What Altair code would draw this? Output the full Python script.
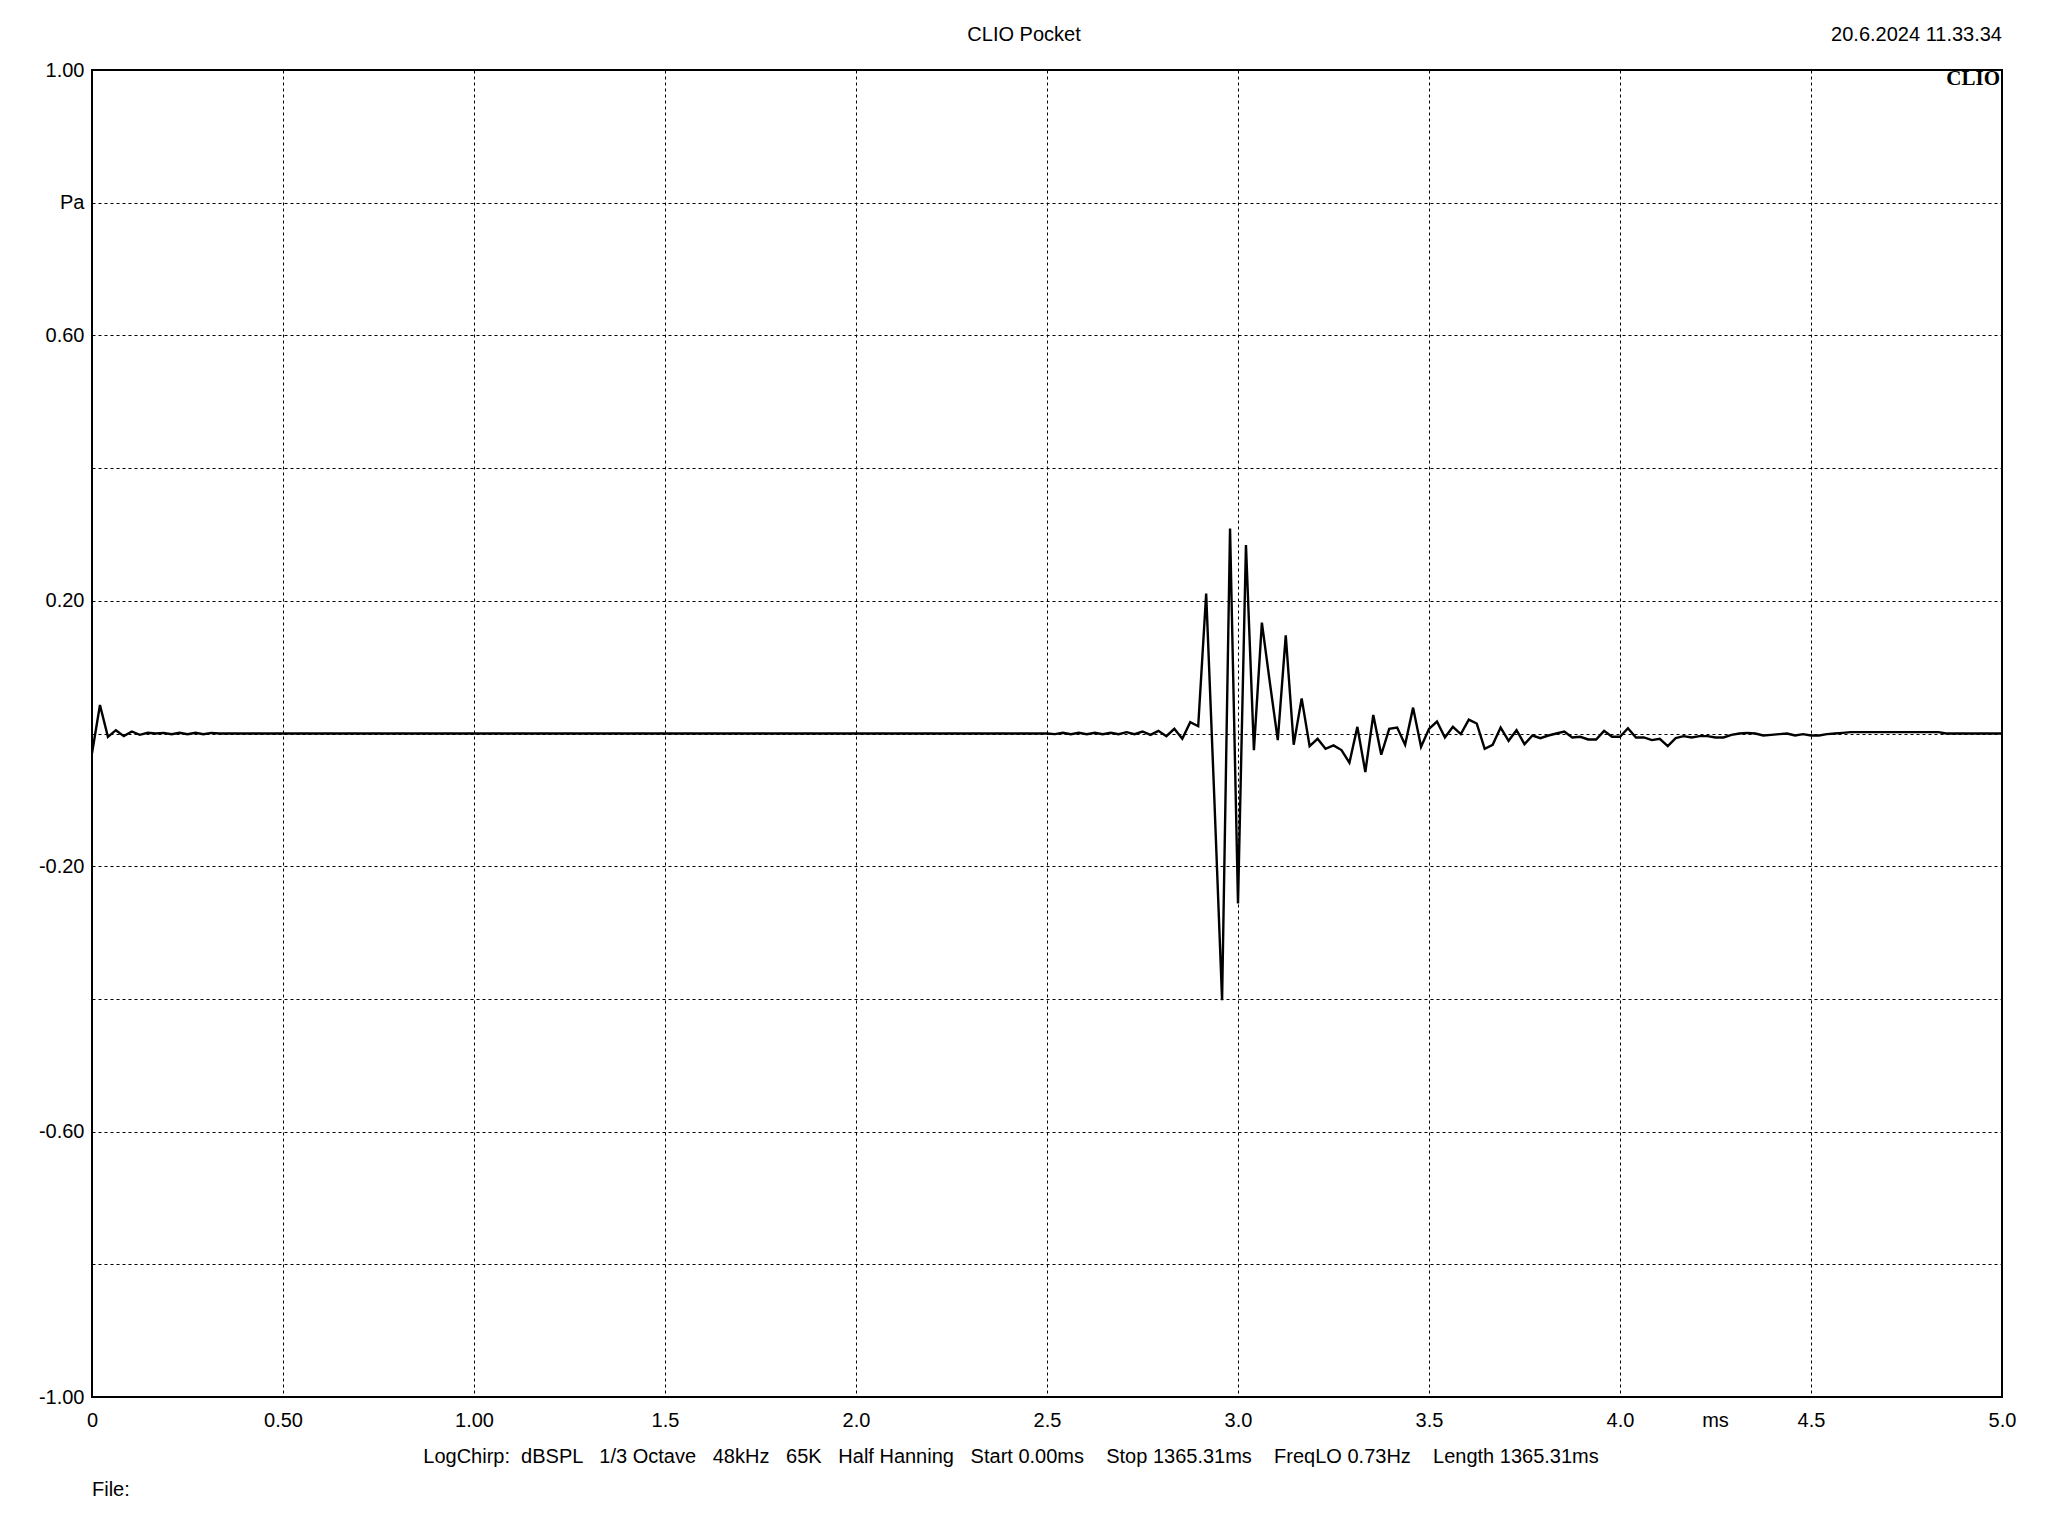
import altair as alt
import pandas as pd

FONT = "Liberation Sans"
SAMPLE_RATE_KHZ = 48.0

# Impulse response samples (Pa), one per 1/48 ms
pressure = [
    -0.030, 0.043, -0.005, 0.005, -0.004, 0.003, -0.002, 0.001, 0.000, 0.001,
    -0.001, 0.001, -0.001, 0.001, -0.001, 0.001, 0.000,
    0.0, 0.0, 0.0, 0.0, 0.0, 0.0, 0.0, 0.0, 0.0, 0.0, 0.0, 0.0, 0.0,
    0.0, 0.0, 0.0, 0.0, 0.0, 0.0, 0.0, 0.0, 0.0, 0.0, 0.0, 0.0, 0.0,
    0.0, 0.0, 0.0, 0.0, 0.0, 0.0, 0.0, 0.0, 0.0, 0.0, 0.0, 0.0, 0.0,
    0.0, 0.0, 0.0, 0.0, 0.0, 0.0, 0.0, 0.0, 0.0, 0.0, 0.0, 0.0, 0.0,
    0.0, 0.0, 0.0, 0.0, 0.0, 0.0, 0.0, 0.0, 0.0, 0.0, 0.0, 0.0, 0.0,
    0.0, 0.0, 0.0, 0.0, 0.0, 0.0, 0.0, 0.0, 0.0, 0.0, 0.0, 0.0, 0.0,
    0.0, 0.0, 0.0, 0.0, 0.0, 0.0, 0.0, 0.0, 0.0, 0.0, 0.0, 0.0, 0.0,
    0.0, 0.0, 0.0, 0.0, 0.0, 0.0, 0.0, 0.0, 0.0, 0.0, 0.0, 0.0, 0.0,
    -0.001, 0.001, -0.001, 0.001, -0.001, 0.001, -0.001, 0.001, -0.001, 0.002,
    -0.001, 0.003, -0.002, 0.004, -0.004, 0.007, -0.008, 0.017, 0.011,
    0.211, -0.090, -0.402, 0.309, -0.256, 0.284, -0.025, 0.167, 0.077, -0.010,
    0.148, -0.017, 0.053, -0.019, -0.008, -0.023, -0.018, -0.025, -0.044, 0.010,
    -0.058, 0.028, -0.032, 0.007, 0.009,
    -0.017, 0.039, -0.020, 0.007, 0.018, -0.006, 0.010, -0.001, 0.021, 0.015,
    -0.023, -0.017, 0.009, -0.011, 0.005, -0.016, -0.003, -0.007, -0.003, 0.000,
    0.003, -0.006, -0.005, -0.009, -0.009, 0.004, -0.005, -0.005, 0.008, -0.006,
    -0.006, -0.010,
    -0.008, -0.019, -0.007, -0.004, -0.006, -0.004, -0.004, -0.006, -0.006, -0.002,
    0.000, 0.001, 0.000, -0.003, -0.002, -0.001, 0.000, -0.003, -0.001, -0.003,
    -0.003, -0.001, 0.000, 0.001,
    0.002, 0.002, 0.002, 0.002, 0.002, 0.002, 0.002, 0.002, 0.002, 0.002, 0.002, 0.002,
    0.000, 0.000, 0.000, 0.000, 0.000, 0.000, 0.000, 0.000,
]
time_ms = [i / SAMPLE_RATE_KHZ for i in range(len(pressure))]

xtick_values = [0.0, 0.5, 1.0, 1.5, 2.0, 2.5, 3.0, 3.5, 4.0, 4.5, 5.0]
xtick_labels = ["0", "0.50", "1.00", "1.5", "2.0", "2.5", "3.0", "3.5", "4.0", "4.5", "5.0"]
ytick_values = [-1.0, -0.8, -0.6, -0.4, -0.2, 0.0, 0.2, 0.4, 0.6, 0.8, 1.0]
ytick_labels = ["-1.00", "", "-0.60", "", "-0.20", "", "0.20", "", "0.60", "Pa", "1.00"]

title_text = "CLIO Pocket"
date_text = "20.6.2024 11.33.34"
logo_text = "CLIO"
x_unit_text = "ms"
x_unit_pos = 4.25
NB = "\u00a0"
info_parts = ["LogChirp:", "dBSPL", "1/3 Octave", "48kHz", "65K", "Half Hanning",
              "Start 0.00ms", "Stop 1365.31ms", "FreqLO 0.73Hz", "Length 1365.31ms"]
info_gaps = [2, 3, 3, 3, 3, 3, 4, 4, 4]
file_text = "File:"

W, H = 1910, 1327


def label_expr(values, labels):
    expr = "''"
    for v, l in zip(values, labels):
        expr = f"abs(datum.value - ({v})) < 1e-6 ? '{l}' : ({expr})"
    return expr


info_text = info_parts[0]
for gap, part in zip(info_gaps, info_parts[1:]):
    info_text += " " + NB * (gap - 1) + part

df = pd.DataFrame({"t": time_ms, "p": pressure})

x_scale = alt.Scale(domain=[0, 5], nice=False, zero=False)
y_scale = alt.Scale(domain=[-1, 1], nice=False, zero=False)

common_axis = dict(
    grid=True, gridDash=[3, 3], gridColor="black", gridWidth=1, gridOpacity=1,
    domain=False, ticks=False, tickSize=0, labelFont=FONT, labelFontSize=20,
    labelColor="black", title=None, labelOverlap=False, labelFlush=False,
)

x_axis = alt.Axis(values=xtick_values, labelExpr=label_expr(xtick_values, xtick_labels),
                  labelPadding=13, labelAngle=0, **common_axis)
y_axis = alt.Axis(values=ytick_values, labelExpr=label_expr(ytick_values, ytick_labels),
                  labelPadding=8, labelBaseline="middle", **common_axis)

line = alt.Chart(df).mark_line(color="black", strokeWidth=2.4, clip=True).encode(
    x=alt.X("t:Q", scale=x_scale, axis=x_axis),
    y=alt.Y("p:Q", scale=y_scale, axis=y_axis),
)

one = pd.DataFrame({"k": [0]})


def txt(text, x, y, align="center", size=20, font=FONT, weight="normal"):
    return alt.Chart(one).mark_text(
        text=text, align=align, baseline="middle", fontSize=size, font=font,
        fontWeight=weight, color="black",
    ).encode(x=alt.value(x), y=alt.value(y))


unit_df = pd.DataFrame({"t": [x_unit_pos], "label": [x_unit_text]})
unit = alt.Chart(unit_df).mark_text(
    align="center", baseline="middle", fontSize=20, font=FONT, color="black"
).encode(
    x=alt.X("t:Q", scale=x_scale, axis=x_axis),
    y=alt.value(H + 24),
    text="label:N",
)

chart = alt.layer(
    line,
    unit,
    txt(title_text, 932, -35),
    txt(date_text, W, -35, align="right"),
    txt(logo_text, W - 2, 9, align="right", size=21, font="Liberation Serif", weight="bold"),
    txt(info_text, 919, H + 60),
    txt(file_text, 0, H + 93, align="left"),
).properties(
    width=W, height=H,
    padding={"left": 84, "top": 62, "right": 38, "bottom": 130},
    autosize=alt.AutoSizeParams(type="none"),
    background="white",
).configure_view(stroke="black", strokeWidth=2)

chart.save("out.html", embed_options={"renderer": "svg", "actions": False})
